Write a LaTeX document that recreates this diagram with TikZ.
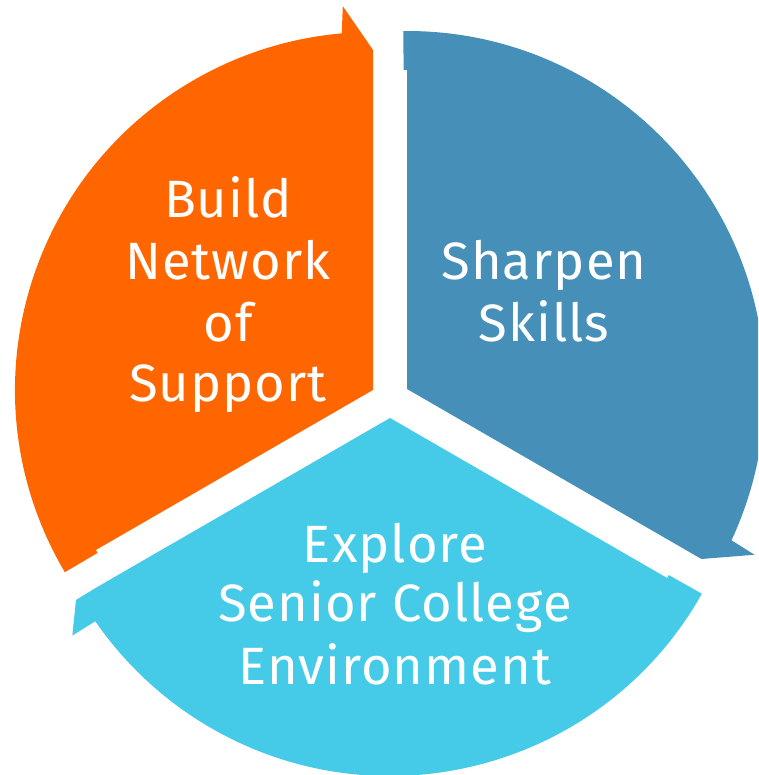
\documentclass[tikz,border=0pt]{standalone}
\usepackage{fontspec}
\setmainfont{Fira Sans}[LetterSpace=2]
\definecolor{segorange}{HTML}{FF6600}
\definecolor{segblue}{HTML}{468FB8}
\definecolor{segcyan}{HTML}{45CAE7}
\begin{document}
\begin{tikzpicture}[x=1pt,y=1pt,
  lbl/.style={text=white,anchor=base,inner sep=0pt,font=\fontsize{52.5}{61}\selectfont}]
\useasboundingbox (0,0) rectangle (758,775);
\clip (0,0) rectangle (758,775);
% orange segment (Build Network of Support)
\begin{scope}[shift={(373,385)}]
\fill[segorange] (0,0) -- (210:320pt) -- (210.6:320pt) -- (210.6:358pt)
  arc[start angle=210.6,end angle=95,radius=358pt]
  -- (94.5:385pt) -- (90:340pt) -- cycle;
\end{scope}
% blue segment (Sharpen Skills)
\begin{scope}[shift={(407,386)}]
\fill[segblue] (0,0) -- (90:319pt) -- (90.6:319pt) -- (90.6:358pt)
  arc[start angle=90.6,end angle=-25,radius=358pt]
  -- (-25.5:385pt) -- (-30:340pt) -- cycle;
\end{scope}
% cyan segment (Explore Senior College Environment)
\begin{scope}[shift={(390,357)}]
\fill[segcyan] (0,0) -- (-30:320pt) -- (-29.4:320pt) -- (-29.4:358pt)
  arc[start angle=-29.4,end angle=-145.4,radius=358pt]
  -- (-145.6:385pt) -- (-149.9:363pt) -- (-150:340pt) -- cycle;
\end{scope}
% labels
\node[lbl] (o1) at (228,557) {Build};
\node[lbl] (o2) at (228,495) {Network};
\node[lbl] (o3) at (228,433) {of};
\node[lbl] (o4) at (228,373) {Support};
\node[lbl] (b1) at (544,495) {Sharpen};
\node[lbl] (b2) at (544,433) {Skills};
\node[lbl] (c1) at (395,212) {Explore};
\node[lbl] (c2) at (395,153) {Senior College};
\node[lbl] (c3) at (395,90) {Environment};
\end{tikzpicture}
\end{document}
